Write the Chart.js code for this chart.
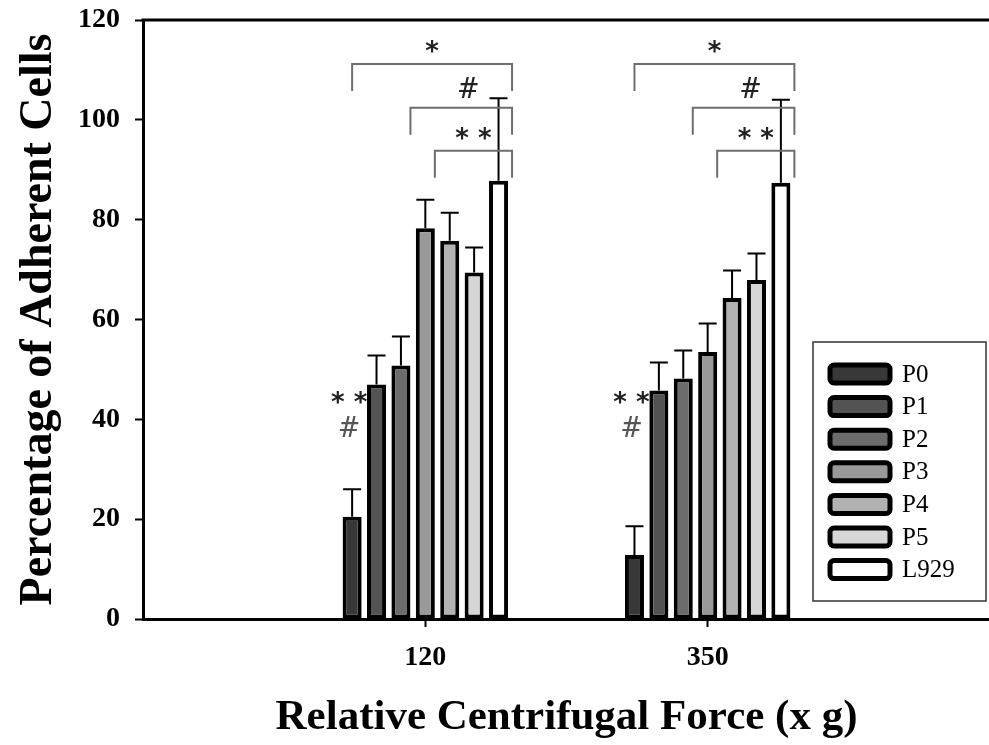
<!DOCTYPE html>
<html>
<head>
<meta charset="utf-8">
<script src="https://cdn.jsdelivr.net/npm/chart.js@4/dist/chart.umd.min.js"></script>
<style>
    html, body { margin: 0; padding: 0; background: #fff; overflow: hidden; }
    #wrap { width: 1000px; height: 745px; }
</style>
</head>
<body>
<div id="wrap"><canvas id="myChart" width="1000" height="745"></canvas></div>
<script>
// relative centrifugal force groups (blank slots pad the axis ends)
const forces = ['', '120', '350', ''];
const passages = ['P0', 'P1', 'P2', 'P3', 'P4', 'P5', 'L929'];

// mean percentage of adherent cells
const p0 = [null, 20.5, 12.8, null];
const p1 = [null, 47.0, 45.8, null];
const p2 = [null, 50.8, 48.2, null];
const p3 = [null, 78.3, 53.5, null];
const p4 = [null, 75.8, 64.3, null];
const p5 = [null, 69.4, 67.9, null];
const l929 = [null, 87.8, 87.4, null];

// standard deviation (upper error bar only)
const p0Err = [null, 5.5, 5.8, null];
const p1Err = [null, 5.8, 5.6, null];
const p2Err = [null, 5.8, 5.6, null];
const p3Err = [null, 5.7, 5.7, null];
const p4Err = [null, 5.6, 5.5, null];
const p5Err = [null, 5.0, 5.3, null];
const l929Err = [null, 16.5, 16.6, null];

const yTicks = [0, 20, 40, 60, 80, 100, 120];

// significance brackets, each running from one passage to L929
const bracketFrom = [0, 2, 3];
const bracketLevel = [111.2, 102.4, 93.8];
const bracketMark = ['*', '#', '* *'];

const fills = ['#383838', '#535353', '#6c6c6c', '#999999', '#b2b2b2', '#d6d6d6', '#ffffff'];
const values = [p0, p1, p2, p3, p4, p5, l929];
const errors = [p0Err, p1Err, p2Err, p3Err, p4Err, p5Err, l929Err];

const serif = "'Liberation Serif', 'Times New Roman', serif";

const datasets = passages.map((name, i) => ({
    label: name,
    data: values[i],
    backgroundColor: fills[i],
    borderColor: '#000',
    borderWidth: 4,
    borderSkipped: false,
    categoryPercentage: 0.605,
    barPercentage: 0.78,
}));

function drawMark(ctx, text, x, y) {
    if (text === '#') {
        ctx.font = "27px 'DejaVu Serif', serif";
        ctx.fillText(text, x, y);
    } else {
        ctx.font = "bold 26px 'DejaVu Sans', sans-serif";
        ctx.fillText(text, x, y + 6);
    }
}

const overlay = {
    id: 'overlay',
    afterDatasetsDraw(chart) {
        const { ctx, chartArea, scales: { y } } = chart;
        ctx.save();

        // top frame line
        ctx.strokeStyle = '#000';
        ctx.lineWidth = 3;
        ctx.beginPath();
        ctx.moveTo(chartArea.left - 1.5, chartArea.top);
        ctx.lineTo(chart.width, chartArea.top);
        ctx.stroke();

        // error bars
        ctx.lineWidth = 2;
        chart.data.datasets.forEach((ds, i) => {
            const meta = chart.getDatasetMeta(i);
            meta.data.forEach((bar, j) => {
                const v = ds.data[j];
                if (v == null) return;
                const top = y.getPixelForValue(v + errors[i][j]);
                ctx.beginPath();
                ctx.moveTo(bar.x, bar.y);
                ctx.lineTo(bar.x, top);
                ctx.moveTo(bar.x - 9, top);
                ctx.lineTo(bar.x + 9, top);
                ctx.stroke();
            });
        });

        // brackets and significance marks
        const last = chart.getDatasetMeta(passages.length - 1).data;
        ctx.textAlign = 'center';
        ctx.textBaseline = 'middle';
        [1, 2].forEach((j) => {
            const right = last[j].x + last[j].width / 2 + 4;
            bracketFrom.forEach((k, b) => {
                const bar = chart.getDatasetMeta(k).data[j];
                const left = b === 0 ? bar.x : bar.x + bar.width / 2;
                const yTop = y.getPixelForValue(bracketLevel[b]);
                const yDrop = y.getPixelForValue(bracketLevel[b] - 5.4);
                ctx.strokeStyle = '#6e6e6e';
                ctx.lineWidth = 2;
                ctx.beginPath();
                ctx.moveTo(left, yDrop);
                ctx.lineTo(left, yTop);
                ctx.lineTo(right, yTop);
                ctx.lineTo(right, yDrop);
                ctx.stroke();
                ctx.fillStyle = '#222';
                const cx = b === 1 ? (left + right) / 2 + 7 : (left + right) / 2;
                drawMark(ctx, bracketMark[b], cx, y.getPixelForValue(bracketLevel[b] + 3.4));
            });

            // marks beside P0
            const first = chart.getDatasetMeta(0).data[j];
            ctx.fillStyle = '#222';
            drawMark(ctx, '* *', first.x - 3, y.getPixelForValue(44.2));
            ctx.fillStyle = '#555';
            drawMark(ctx, '#', first.x - 3, y.getPixelForValue(37.8));
        });
        ctx.restore();
    },
    afterDraw(chart) {
        // legend box
        const { ctx } = chart;
        ctx.save();
        ctx.strokeStyle = '#333';
        ctx.lineWidth = 1.5;
        ctx.strokeRect(813, 342, 173, 259);
        ctx.font = '25px ' + serif;
        ctx.textAlign = 'left';
        ctx.textBaseline = 'middle';
        passages.forEach((name, i) => {
            const cy = 374 + i * 32.6;
            ctx.beginPath();
            ctx.roundRect(830, cy - 9, 60, 18, 4);
            ctx.fillStyle = fills[i];
            ctx.fill();
            ctx.lineWidth = 5;
            ctx.strokeStyle = '#000';
            ctx.stroke();
            ctx.fillStyle = '#000';
            ctx.fillText(name, 902, cy + 1);
        });
        ctx.restore();
    }
};

const ctx = document.getElementById('myChart').getContext('2d');
const chart = new Chart(ctx, {
    type: 'bar',
    data: {
        labels: forces,
        datasets: datasets,
    },
    options: {
        responsive: false,
        animation: false,
        layout: { padding: { left: 0, right: 10, top: 20, bottom: 0 } },
        plugins: {
            legend: { display: false },
            tooltip: { enabled: false },
        },
        scales: {
            x: {
                offset: false,
                grid: {
                    offset: false,
                    drawOnChartArea: false,
                    tickLength: 8,
                    tickWidth: 2,
                    tickColor: (c) => (c.tick && c.tick.label ? '#000' : 'rgba(0,0,0,0)'),
                },
                border: { color: '#000', width: 3 },
                ticks: {
                    color: '#000',
                    padding: 14,
                    font: { family: serif, size: 28, weight: 'bold' },
                },
                title: {
                    display: true,
                    text: 'Relative Centrifugal Force (x g)',
                    color: '#000',
                    font: { family: serif, size: 43, weight: 'bold' },
                    padding: { top: 0, bottom: 1 },
                },
                afterFit: (scale) => {
                    scale.height = 126;
                    scale.paddingLeft = 0;
                    scale.paddingRight = 0;
                },
            },
            y: {
                min: 0,
                max: 120,
                afterBuildTicks: (scale) => { scale.ticks = yTicks.map((v) => ({ value: v })); },
                grid: {
                    drawOnChartArea: false,
                    tickLength: 8,
                    tickWidth: 2,
                    tickColor: '#000',
                },
                border: { color: '#000', width: 3 },
                ticks: {
                    color: '#000',
                    padding: 15,
                    font: { family: serif, size: 28, weight: 'bold' },
                },
                title: {
                    display: true,
                    text: 'Percentage of Adherent Cells',
                    color: '#000',
                    font: { family: serif, size: 46, weight: 'bold' },
                    padding: { top: 12, bottom: 0 },
                },
                afterFit: (scale) => {
                    scale.width = 143;
                    scale.paddingTop = 0;
                    scale.paddingBottom = 0;
                },
            },
        },
    },
    plugins: [overlay],
});
</script>
</body>
</html>
